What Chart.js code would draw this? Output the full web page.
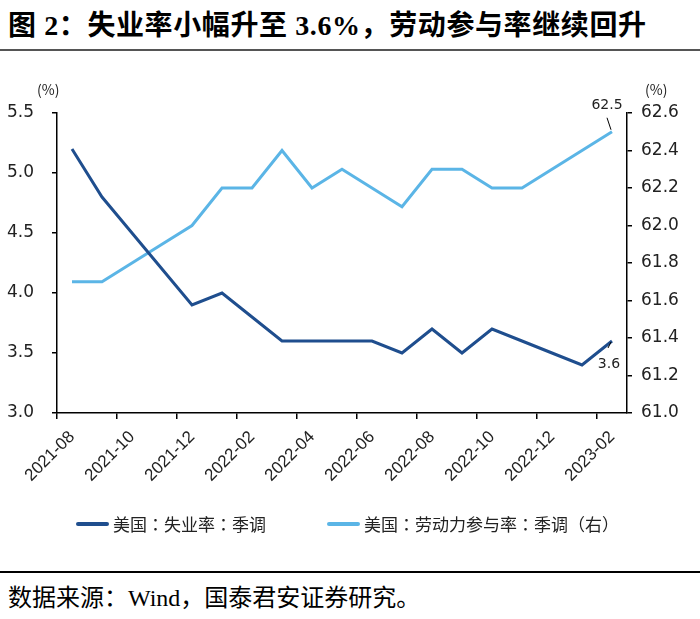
<!DOCTYPE html>
<html>
<head>
  <meta charset="utf-8">
  <title>失业率与劳动参与率</title>
  <script src="https://cdn.jsdelivr.net/npm/chart.js"></script>
  <style>
    body { margin: 0; background: #fff; width: 700px; height: 619px; position: relative; overflow: hidden; }
    .cn { font-family: "Liberation Serif", "Noto Sans CJK SC", serif; color: #000; }
    #title { position: absolute; left: 8px; top: 3px; font-size: 28px; font-weight: bold; letter-spacing: 0.6px; white-space: nowrap; }
    .rule { position: absolute; left: 0; width: 700px; }
    #chartBox { position: absolute; left: 0; top: 0; width: 700px; height: 545px; }
    .unit { position: absolute; top: 79px; font-family: "Noto Sans CJK SC", sans-serif; font-size: 14px; color: #222; }
    #legend { position: absolute; top: 511px; left: 0; width: 700px; height: 26px; font-family: "Noto Sans CJK SC", sans-serif; font-size: 17px; color: #222; font-variant-east-asian: full-width; }
    .item { position: absolute; top: 0; white-space: nowrap; }
    .swatch { display: inline-block; width: 33px; height: 4px; border-radius: 2px; vertical-align: middle; margin-right: 4px; position: relative; top: -2px; }
    #source { position: absolute; left: 8px; top: 578px; font-size: 24px; white-space: nowrap; }
  </style>
</head>
<body>
  <div id="title" class="cn">图 2：失业率小幅升至 3.6%，劳动参与率继续回升</div>
  <div class="rule" style="top:49px; height:2px; background:#555;"></div>

  <div id="chartBox"><canvas id="chart"></canvas></div>
  <div class="unit" style="left:37px;">(%)</div>
  <div class="unit" style="left:645px;">(%)</div>

  <div id="legend">
    <div class="item" style="left:76px;"><span class="swatch" style="background:#1f4e8e;"></span>美国:失业率:季调</div>
    <div class="item" style="left:327px;"><span class="swatch" style="background:#5bb5e6;"></span>美国:劳动力参与率:季调（右）</div>
  </div>

  <div class="rule" style="top:571px; height:1.5px; background:#000;"></div>
  <div id="source" class="cn">数据来源：Wind，国泰君安证券研究。</div>

  <script>
    const months = [
      '2021-08', '2021-09', '2021-10', '2021-11', '2021-12',
      '2022-01', '2022-02', '2022-03', '2022-04', '2022-05', '2022-06',
      '2022-07', '2022-08', '2022-09', '2022-10', '2022-11', '2022-12',
      '2023-01', '2023-02'
    ];
    const unemployment = [5.2, 4.8, 4.5, 4.2, 3.9, 4.0, 3.8, 3.6, 3.6, 3.6, 3.6, 3.5, 3.7, 3.5, 3.7, 3.6, 3.5, 3.4, 3.6];
    const participation = [61.7, 61.7, 61.8, 61.9, 62.0, 62.2, 62.2, 62.4, 62.2, 62.3, 62.2, 62.1, 62.3, 62.3, 62.2, 62.2, 62.3, 62.4, 62.5];
    const leftTicks = { min: 3.0, max: 5.5, step: 0.5 };
    const rightTicks = { min: 61.0, max: 62.6, step: 0.2 };

    const DARK = '#1f4e8e';
    const LIGHT = '#5bb5e6';

    // last-value callouts with a short leader line
    const endLabels = {
      id: 'endLabels',
      afterDatasetsDraw(chart) {
        const ctx = chart.ctx;
        ctx.save();
        ctx.strokeStyle = '#000';
        ctx.lineWidth = 1;
        ctx.fillStyle = '#222';
        ctx.font = '14px "DejaVu Sans"';
        ctx.textAlign = 'center';

        const p1 = chart.getDatasetMeta(1).data[participation.length - 1];
        ctx.beginPath();
        ctx.moveTo(p1.x - 5, p1.y - 14);
        ctx.lineTo(p1.x - 1, p1.y - 2);
        ctx.stroke();
        ctx.textBaseline = 'bottom';
        ctx.fillText(participation[participation.length - 1].toFixed(1), p1.x - 5, p1.y - 19);

        const p0 = chart.getDatasetMeta(0).data[unemployment.length - 1];
        ctx.beginPath();
        ctx.moveTo(p0.x - 4, p0.y + 7);
        ctx.lineTo(p0.x - 1, p0.y + 1);
        ctx.stroke();
        ctx.textBaseline = 'top';
        ctx.fillText(unemployment[unemployment.length - 1].toFixed(1), p0.x - 3, p0.y + 16);
        ctx.restore();
      }
    };

    new Chart(document.getElementById('chart').getContext('2d'), {
      type: 'line',
      data: {
        labels: months,
        datasets: [{
          label: '美国:失业率:季调',
          data: unemployment,
          borderColor: DARK,
          borderWidth: 3,
          pointRadius: 0,
          tension: 0,
          yAxisID: 'y'
        }, {
          label: '美国:劳动力参与率:季调（右）',
          data: participation,
          borderColor: LIGHT,
          borderWidth: 3,
          pointRadius: 0,
          tension: 0,
          yAxisID: 'y1'
        }]
      },
      options: {
        animation: false,
        responsive: true,
        maintainAspectRatio: false,
        layout: { padding: { top: 113, left: 0, right: 0, bottom: 0 } },
        plugins: { legend: { display: false }, tooltip: { enabled: false } },
        scales: {
          x: {
            offset: true,
            afterFit(scale) { scale.height = 132; },
            grid: {
              offset: true,
              drawOnChartArea: false,
              drawTicks: true,
              tickLength: 6,
              lineWidth: 1.5,
              color: (c) => (c.index % 2 === 0 ? '#000' : 'rgba(0,0,0,0)')
            },
            border: { color: '#000', width: 1.5 },
            ticks: {
              autoSkip: false,
              maxRotation: 45,
              minRotation: 45,
              padding: 8,
              color: '#222',
              font: { family: 'Liberation Sans', size: 17 },
              callback: (v, i) => (i % 2 === 0 ? months[i] : '')
            }
          },
          y: {
            position: 'left',
            min: leftTicks.min,
            max: leftTicks.max,
            afterFit(scale) { scale.width = 57; },
            grid: { drawOnChartArea: false, tickLength: 5, color: '#000', lineWidth: 1.5 },
            border: { color: '#000', width: 1.5 },
            ticks: {
              stepSize: leftTicks.step,
              padding: 18,
              color: '#222',
              font: { family: 'DejaVu Sans', size: 17 },
              callback: (v) => Number(v).toFixed(1)
            }
          },
          y1: {
            position: 'right',
            min: rightTicks.min,
            max: rightTicks.max,
            afterFit(scale) { scale.width = 73; },
            grid: { drawOnChartArea: false, tickLength: 5, color: '#000', lineWidth: 1.5 },
            border: { color: '#000', width: 1.5 },
            ticks: {
              stepSize: rightTicks.step,
              padding: 9,
              color: '#222',
              font: { family: 'DejaVu Sans', size: 17 },
              callback: (v) => Number(v).toFixed(1)
            }
          }
        }
      },
      plugins: [endLabels]
    });
  </script>
</body>
</html>
